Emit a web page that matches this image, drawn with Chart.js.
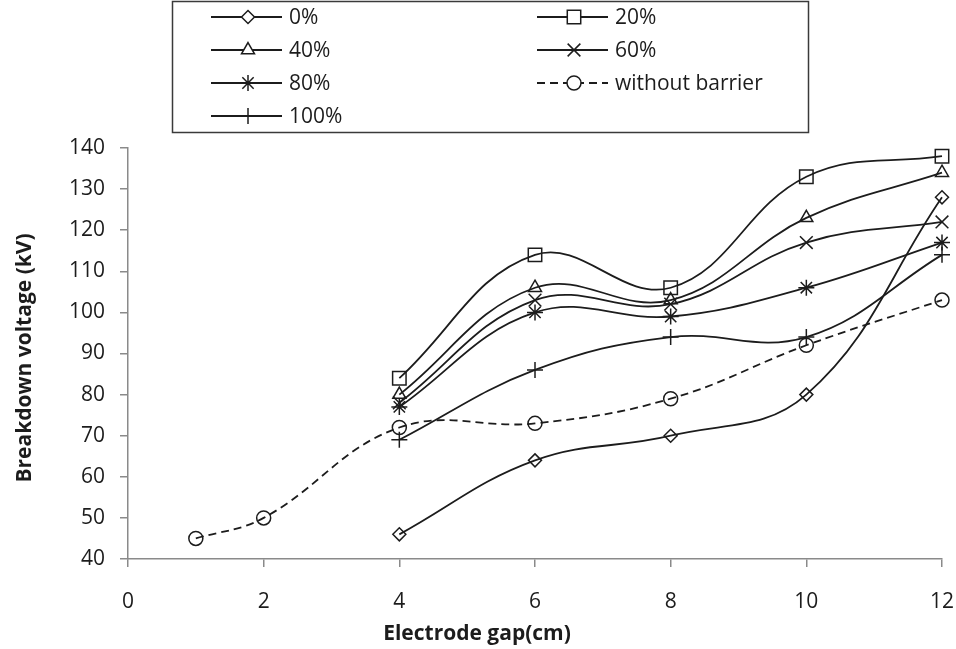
<!DOCTYPE html>
<html>
<head>
<meta charset="utf-8">
<script src="https://cdn.jsdelivr.net/npm/chart.js@4.4.0/dist/chart.umd.min.js"></script>
<style>
  html, body { margin: 0; padding: 0; background: #fff; }
  #wrap { width: 956px; height: 649px; position: relative; }
</style>
</head>
<body>
<div id="wrap"><canvas id="gapChart"></canvas></div>
<script>
// electrode gaps (cm)
const barrierGaps = [4, 6, 8, 10, 12];
const openGaps = [1, 2, 4, 6, 8, 10, 12];

// breakdown voltage (kV) per barrier coverage
const v0 = [46, 64, 70, 80, 128];
const v20 = [84, 114, 106, 133, 138];
const v40 = [80, 106, 103, 123, 134];
const v60 = [78, 103, 102, 117, 122];
const v80 = [77, 100, 99, 106, 117];
const v100 = [69, 86, 94, 94, 114];
const vNone = [45, 50, 72, 73, 79, 92, 103];

const xTicks = [0, 2, 4, 6, 8, 10, 12];
const yTicks = [40, 50, 60, 70, 80, 90, 100, 110, 120, 130, 140];

const FONT = "'Open Sans', 'DejaVu Sans', sans-serif";
const INK = "#1c1c1c";
const AXIS = "#8a8a8a";

function pts(xs, ys) {
  return xs.map((x, i) => ({ x: x, y: ys[i] }));
}

function series(label, xs, ys, style, radius, dash) {
  return {
    label: label,
    data: pts(xs, ys),
    borderColor: INK,
    borderWidth: 1.8,
    borderDash: dash || [],
    tension: 0.4,
    pointStyle: style,
    pointRadius: radius,
    pointHoverRadius: radius,
    pointBorderColor: INK,
    pointBackgroundColor: "rgba(0,0,0,0)",
    pointBorderWidth: 1.5,
    clip: false
  };
}

const datasets = [
  series("0%", barrierGaps, v0, "rectRot", 6.5),
  series("20%", barrierGaps, v20, "rect", 9.5),
  series("40%", barrierGaps, v40, "triangle", 7.5),
  series("60%", barrierGaps, v60, "crossRot", 9),
  series("80%", barrierGaps, v80, "star", 8),
  series("without barrier", openGaps, vNone, "circle", 7, [8, 5]),
  series("100%", barrierGaps, v100, "cross", 8)
];

// boxed two-column legend at the top, line + marker + label
const boxLegend = {
  id: "boxLegend",
  afterDraw(chart) {
    const ctx = chart.ctx;
    ctx.save();
    ctx.strokeStyle = "#3a3a3a";
    ctx.lineWidth = 1.5;
    ctx.strokeRect(172.5, 1.5, 636, 131);
    ctx.font = "21px " + FONT;
    ctx.textBaseline = "middle";
    chart.data.datasets.forEach((ds, i) => {
      const col = i % 2;
      const row = Math.floor(i / 2);
      const x0 = col ? 537 : 211;
      const y = 17 + row * 33;
      ctx.beginPath();
      ctx.setLineDash(ds.borderDash);
      ctx.strokeStyle = ds.borderColor;
      ctx.lineWidth = ds.borderWidth;
      ctx.moveTo(x0, y);
      ctx.lineTo(x0 + 71, y);
      ctx.stroke();
      ctx.setLineDash([]);
      ctx.fillStyle = "#fff";
      ctx.strokeStyle = ds.pointBorderColor;
      ctx.lineWidth = ds.pointBorderWidth;
      Chart.helpers.drawPoint(ctx, {
        pointStyle: ds.pointStyle,
        radius: ds.pointRadius,
        borderWidth: ds.pointBorderWidth,
        rotation: 0
      }, x0 + 37, y);
      ctx.fillStyle = INK;
      ctx.fillText(ds.label, x0 + 78, y + 1);
    });
    ctx.restore();
  }
};

// axis titles drawn by hand so they sit where the layout wants them
const axisTitles = {
  id: "axisTitles",
  afterDraw(chart) {
    const ctx = chart.ctx;
    ctx.save();
    ctx.fillStyle = INK;
    ctx.font = "bold 21px " + FONT;
    ctx.textAlign = "center";
    ctx.textBaseline = "middle";
    ctx.fillText("Electrode gap(cm)", 477, 634);
    ctx.translate(25, 358);
    ctx.rotate(-Math.PI / 2);
    ctx.fillText("Breakdown voltage (kV)", 0, 0);
    ctx.restore();
  }
};

new Chart(document.getElementById("gapChart"), {
  type: "line",
  data: { datasets: datasets },
  plugins: [boxLegend, axisTitles],
  options: {
    responsive: true,
    maintainAspectRatio: false,
    animation: false,
    layout: { autoPadding: false, padding: { top: 148, right: 14, bottom: 0, left: 0 } },
    plugins: { legend: { display: false }, tooltip: { enabled: false } },
    scales: {
      x: {
        type: "linear",
        min: 0,
        max: 12,
        afterBuildTicks(s) { s.ticks = xTicks.map(v => ({ value: v })); },
        afterFit(s) { s.height = 90; s.paddingLeft = 0; s.paddingRight = 0; },
        ticks: { color: INK, font: { family: FONT, size: 21 }, padding: 22, maxRotation: 0 },
        grid: { drawOnChartArea: false, tickLength: 8, color: AXIS, lineWidth: 1.5 },
        border: { color: AXIS, width: 1.5 }
      },
      y: {
        min: 40,
        max: 140,
        afterBuildTicks(s) { s.ticks = yTicks.map(v => ({ value: v })); },
        afterFit(s) { s.width = 128; s.paddingTop = 0; s.paddingBottom = 0; },
        ticks: { color: INK, font: { family: FONT, size: 21 }, padding: 15 },
        grid: { drawOnChartArea: false, tickLength: 8, color: AXIS, lineWidth: 1.5 },
        border: { color: AXIS, width: 1.5 }
      }
    }
  }
});
</script>
</body>
</html>
